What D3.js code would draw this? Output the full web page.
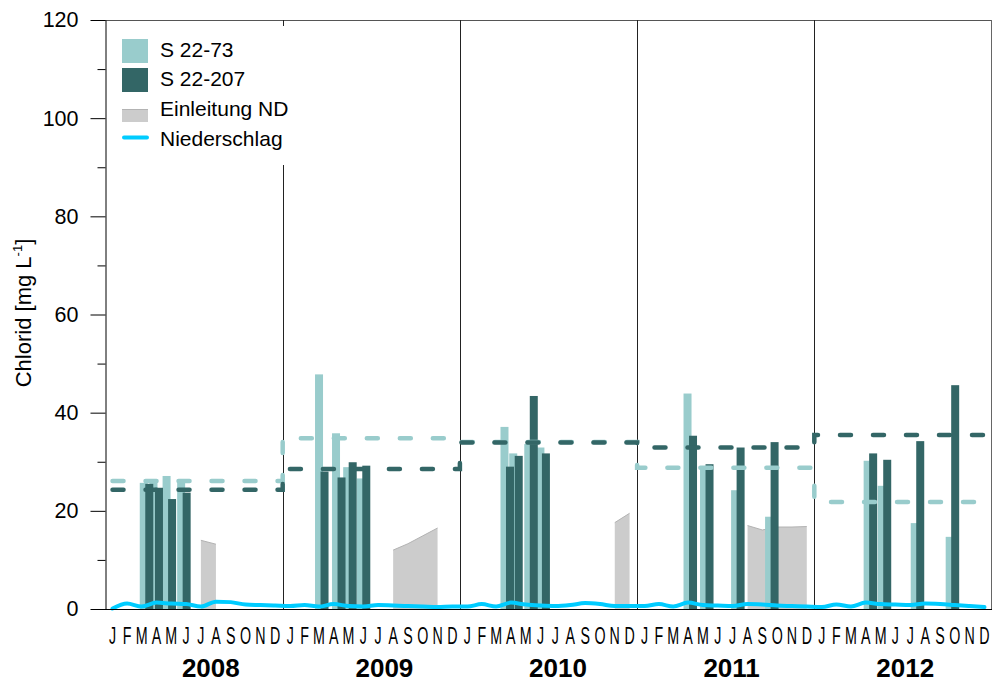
<!DOCTYPE html>
<html>
<head>
<meta charset="utf-8">
<script src="https://cdn.jsdelivr.net/npm/d3@7"></script>
<style>
  body { margin: 0; background: #fff; }
  svg { display: block; font-family: "Liberation Sans", Arial, sans-serif; }
</style>
</head>
<body>
<svg id="chart" width="994" height="683"></svg>
<script>
// ---- data ----
const years = [2008, 2009, 2010, 2011, 2012];
const monthLetters = ["J", "F", "M", "A", "M", "J", "J", "A", "S", "O", "N", "D"];
const yTicks = [0, 20, 40, 60, 80, 100, 120];
const yMinorTicks = [10, 30, 50, 70, 90, 110];

// sampling dates (both wells sampled on the same day)
const sampleDates = [
  "2008-03-26", "2008-04-15", "2008-05-12", "2008-06-11",
  "2009-03-22", "2009-04-26", "2009-05-19", "2009-06-16",
  "2010-04-08", "2010-04-26", "2010-05-27", "2010-06-21",
  "2011-04-20", "2011-05-24", "2011-07-27", "2011-10-05",
  "2012-04-25", "2012-05-24", "2012-07-31", "2012-10-11"
];
const chloridS2273 = [25.7, 26.3, 27.1, 25.9, 47.8, 35.8, 28.9, 26.6, 37.1, 31.7, 33.6, 32.9,
                      43.9, 28.5, 24.2, 18.8, 30.2, 25.1, 17.5, 14.7];
const chloridS22207 = [25.5, 24.7, 22.4, 23.7, 28.0, 26.8, 29.9, 29.2, 29.0, 31.2, 43.4, 31.7,
                       35.3, 29.5, 32.9, 34.0, 31.7, 30.4, 34.2, 45.6];

// yearly means, one per year
const meanS2273 = [26.1, 34.8, 34.0, 28.8, 21.8];
const meanS22207 = [24.3, 28.5, 33.9, 32.9, 35.45];

// monthly values, Jan 2008 .. Dec 2012 (null = no discharge)
const einleitungND = [
  null, null, null, null, null, null, 14.0, 13.2, null, null, null, null,
  null, null, null, null, null, null, null, 12.0, 13.3, 14.9, 16.5, null,
  null, null, null, null, null, null, null, null, null, null, 17.6, 19.5,
  null, null, null, null, null, null, null, 17.0, 16.1, 16.7, 16.7, 16.8,
  null, null, null, null, null, null, null, null, null, null, null, null
];
const niederschlag = [
  0.1, 1.1, 0.5, 1.3, 1.1, 1.0, 0.5, 1.5, 1.4, 0.9, 0.8, 0.7,
  0.6, 0.8, 0.5, 1.0, 0.6, 0.5, 0.8, 0.7, 0.6, 0.5, 0.4, 0.5,
  0.5, 1.0, 0.5, 1.3, 0.9, 0.7, 0.6, 0.8, 1.2, 1.0, 0.6, 0.6,
  0.6, 1.0, 0.5, 1.3, 0.8, 0.7, 0.6, 1.0, 0.9, 0.7, 0.6, 0.5,
  0.4, 0.9, 0.5, 1.3, 1.0, 0.9, 0.8, 1.1, 1.0, 0.8, 0.6, 0.4
];

// ---- layout ----
const colLight = "#99cccc", colDark = "#336666", colGray = "#cccccc", colRain = "#00ccff";
const plotLeft = 105, plotRight = 992, plotTop = 20, plotBottom = 609;
const svg = d3.select("#chart");

const parse = d3.utcParse("%Y-%m-%d");
const start = new Date(Date.UTC(2008, 0, 1)), end = new Date(Date.UTC(2013, 0, 1));
const x = d3.scaleUtc().domain([start, end]).range([plotLeft, plotRight]);
const y = d3.scaleLinear().domain([0, 120]).range([plotBottom, plotTop]);
const months = d3.utcMonth.range(start, end);
const mid = d => new Date((d.getTime() + d3.utcMonth.offset(d, 1).getTime()) / 2);
const yearBand = d3.scaleBand().domain(years).range([124, plotRight]);

// frame
svg.append("line").attr("x1", plotLeft).attr("x2", plotRight).attr("y1", plotTop + 0.5).attr("y2", plotTop + 0.5)
  .attr("stroke", "#555").attr("stroke-width", 1);
svg.append("line").attr("x1", plotRight - 0.5).attr("x2", plotRight - 0.5).attr("y1", plotTop).attr("y2", plotBottom)
  .attr("stroke", "#666").attr("stroke-width", 1);

// year separators
years.slice(1).forEach((yr, i) => {
  const xs = Math.round(x(new Date(Date.UTC(yr, 0, 1)))) + 0.5;
  if (i === 0) {
    svg.append("line").attr("x1", xs).attr("x2", xs).attr("y1", plotTop).attr("y2", plotTop + 6)
      .attr("stroke", "#222");
    svg.append("line").attr("x1", xs).attr("x2", xs).attr("y1", 165).attr("y2", plotBottom)
      .attr("stroke", "#222");
  } else {
    svg.append("line").attr("x1", xs).attr("x2", xs).attr("y1", plotTop).attr("y2", plotBottom)
      .attr("stroke", "#222");
  }
});

// Einleitung ND area
const ndData = months.map((m, i) => ({ t: mid(m), v: einleitungND[i] }));
svg.append("path").datum(ndData)
  .attr("fill", colGray)
  .attr("d", d3.area().defined(d => d.v !== null)
    .x(d => x(d.t)).y0(y(0)).y1(d => y(d.v)));
svg.append("path").datum(ndData)
  .attr("fill", "none").attr("stroke", "#b3b3b3").attr("stroke-width", 1)
  .attr("d", d3.line().defined(d => d.v !== null).x(d => x(d.t)).y(d => y(d.v)));

// bars: S 22-73 first, S 22-207 on top
const barW = 8;
const samples = sampleDates.map((s, i) => ({ t: parse(s), a: chloridS2273[i], b: chloridS22207[i] }));
svg.append("g").selectAll("rect").data(samples).join("rect")
  .attr("x", d => x(d.t) - 6.5).attr("width", barW)
  .attr("y", d => y(d.a)).attr("height", d => y(0) - y(d.a))
  .attr("fill", colLight);
svg.append("g").selectAll("rect").data(samples).join("rect")
  .attr("x", d => x(d.t) - 1).attr("width", barW)
  .attr("y", d => y(d.b)).attr("height", d => y(0) - y(d.b))
  .attr("fill", colDark);

// yearly means as dashed steps
const meanLine = d3.line().curve(d3.curveStep).x(d => x(d.t)).y(d => y(d.v));
[[meanS2273, colLight], [meanS22207, colDark]].forEach(([vals, col]) => {
  const pts = months.map(m => ({ t: mid(m), v: vals[m.getUTCFullYear() - 2008] }));
  svg.append("path").datum(pts)
    .attr("fill", "none").attr("stroke", col).attr("stroke-width", 4.5)
    .attr("stroke-linecap", "round").attr("stroke-dasharray", "11,22")
    .attr("d", meanLine);
});

// precipitation
svg.append("path").datum(months.map((m, i) => ({ t: mid(m), v: niederschlag[i] })))
  .attr("fill", "none").attr("stroke", colRain).attr("stroke-width", 4)
  .attr("stroke-linejoin", "round").attr("stroke-linecap", "round")
  .attr("d", d3.line().curve(d3.curveMonotoneX).x(d => x(d.t)).y(d => y(d.v)));

// bottom axis line
svg.append("line").attr("x1", plotLeft).attr("x2", plotRight).attr("y1", plotBottom + 0.5).attr("y2", plotBottom + 0.5)
  .attr("stroke", "#000");

// y axis
const yAxis = svg.append("g").attr("transform", `translate(${plotLeft + 0.5},0)`)
  .call(d3.axisLeft(y).tickValues(yTicks).tickSize(15).tickPadding(12).tickSizeOuter(0));
yAxis.selectAll("text").attr("font-size", 21.5).attr("font-family", "Liberation Sans, Arial, sans-serif")
  .attr("fill", "#000");
yAxis.select(".domain").attr("stroke", "#000");
svg.append("g").attr("transform", `translate(${plotLeft + 0.5},0)`)
  .call(d3.axisLeft(y).tickValues(yMinorTicks).tickSize(8).tickFormat("").tickSizeOuter(0))
  .call(g => g.select(".domain").remove());

// y axis title
const yTitle = svg.append("text")
  .attr("transform", "translate(31,313) rotate(-90)")
  .attr("text-anchor", "middle").attr("font-size", 22).attr("fill", "#000");
yTitle.append("tspan").text("Chlorid [mg L");
yTitle.append("tspan").attr("font-size", 13).attr("dy", -9).text("-1");
yTitle.append("tspan").attr("dy", 9).text("]");

// month letters
svg.append("g").selectAll("text").data(months).join("text")
  .attr("transform", d => `translate(${x(mid(d))},644) scale(0.62,1)`)
  .attr("text-anchor", "middle").attr("font-size", 23).attr("fill", "#000")
  .text(d => monthLetters[d.getUTCMonth()]);

// year labels
svg.append("g").selectAll("text").data(years).join("text")
  .attr("x", d => yearBand(d) + yearBand.bandwidth() / 2).attr("y", 677)
  .attr("text-anchor", "middle").attr("font-size", 26).attr("font-weight", "bold")
  .attr("fill", "#000").text(d => d);

// legend
const legend = svg.append("g");
const legendItems = [
  { label: "S 22-73", type: "rect", col: colLight, y0: 39, h: 24, base: 57 },
  { label: "S 22-207", type: "rect", col: colDark, y0: 68, h: 24, base: 86 },
  { label: "Einleitung ND", type: "nd", col: colGray, y0: 109, h: 13, base: 116 },
  { label: "Niederschlag", type: "line", col: colRain, y0: 137.5, h: 0, base: 146 }
];
legendItems.forEach(it => {
  if (it.type === "line") {
    legend.append("line").attr("x1", 124).attr("x2", 147).attr("y1", it.y0).attr("y2", it.y0)
      .attr("stroke", it.col).attr("stroke-width", 4).attr("stroke-linecap", "round");
  } else {
    legend.append("rect").attr("x", 122).attr("y", it.y0).attr("width", 26).attr("height", it.h)
      .attr("fill", it.col);
    if (it.type === "nd") {
      legend.append("line").attr("x1", 122).attr("x2", 148).attr("y1", it.y0 + 0.5).attr("y2", it.y0 + 0.5)
        .attr("stroke", "#b3b3b3");
    }
  }
  legend.append("text").attr("x", 160).attr("y", it.base).attr("font-size", 21)
    .attr("fill", "#000").text(it.label);
});
</script>
</body>
</html>
